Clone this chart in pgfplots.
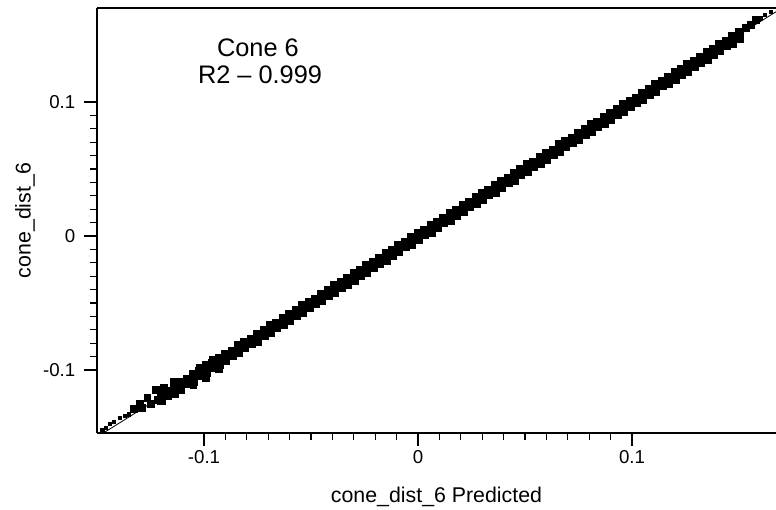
\documentclass[border=0pt]{standalone}
\usepackage{pgfplots}
\pgfplotsset{compat=1.18}
\usepackage{pgfplotstable}
\usepackage{fontspec}
\setmainfont{Liberation Sans}

% main band: x, upper edge, lower edge
\pgfplotstableread{
x yu yl
-0.120 -0.1181 -0.1228
-0.117 -0.1157 -0.1190
-0.114 -0.1119 -0.1171
-0.111 -0.1095 -0.1134
-0.108 -0.1070 -0.1101
-0.105 -0.1032 -0.1082
-0.102 -0.1006 -0.1043
-0.099 -0.0968 -0.1017
-0.096 -0.0949 -0.0979
-0.093 -0.0913 -0.0959
-0.090 -0.0881 -0.0928
-0.087 -0.0857 -0.0890
-0.084 -0.0819 -0.0871
-0.081 -0.0795 -0.0834
-0.078 -0.0770 -0.0801
-0.075 -0.0732 -0.0782
-0.072 -0.0706 -0.0743
-0.069 -0.0668 -0.0717
-0.066 -0.0649 -0.0679
-0.063 -0.0613 -0.0659
-0.060 -0.0581 -0.0628
-0.057 -0.0557 -0.0590
-0.054 -0.0519 -0.0571
-0.051 -0.0495 -0.0534
-0.048 -0.0470 -0.0501
-0.045 -0.0432 -0.0482
-0.042 -0.0406 -0.0443
-0.039 -0.0368 -0.0417
-0.036 -0.0349 -0.0379
-0.033 -0.0313 -0.0359
-0.030 -0.0281 -0.0328
-0.027 -0.0257 -0.0290
-0.024 -0.0219 -0.0271
-0.021 -0.0195 -0.0234
-0.018 -0.0170 -0.0201
-0.015 -0.0132 -0.0182
-0.012 -0.0106 -0.0143
-0.009 -0.0068 -0.0117
-0.006 -0.0049 -0.0079
-0.003 -0.0013 -0.0059
0.000 0.0019 -0.0028
0.003 0.0043 0.0010
0.006 0.0081 0.0029
0.009 0.0105 0.0066
0.012 0.0130 0.0099
0.015 0.0168 0.0118
0.018 0.0194 0.0157
0.021 0.0232 0.0183
0.024 0.0251 0.0221
0.027 0.0287 0.0241
0.030 0.0319 0.0272
0.033 0.0343 0.0310
0.036 0.0381 0.0329
0.039 0.0405 0.0366
0.042 0.0430 0.0399
0.045 0.0468 0.0418
0.048 0.0494 0.0457
0.051 0.0532 0.0483
0.054 0.0551 0.0521
0.057 0.0587 0.0541
0.060 0.0619 0.0572
0.063 0.0643 0.0610
0.066 0.0681 0.0629
0.069 0.0705 0.0666
0.072 0.0730 0.0699
0.075 0.0768 0.0718
0.078 0.0794 0.0757
0.081 0.0832 0.0783
0.084 0.0851 0.0821
0.087 0.0887 0.0841
0.090 0.0919 0.0872
0.093 0.0943 0.0910
0.096 0.0981 0.0929
0.099 0.1005 0.0966
0.102 0.1030 0.0999
0.105 0.1068 0.1018
0.108 0.1094 0.1057
0.111 0.1132 0.1083
0.114 0.1151 0.1121
0.117 0.1187 0.1141
0.120 0.1219 0.1172
0.123 0.1243 0.1210
0.126 0.1281 0.1229
0.129 0.1305 0.1266
0.132 0.1330 0.1299
0.135 0.1368 0.1318
0.138 0.1394 0.1357
0.141 0.1432 0.1383
0.144 0.1451 0.1421
0.147 0.1487 0.1441
0.150 0.1519 0.1472
}\band

% scattered points at both ends
\pgfplotstableread{
x y
-0.1330 -0.1290
-0.1300 -0.1250
-0.1290 -0.1285
-0.1265 -0.1210
-0.1250 -0.1255
-0.1225 -0.1150
-0.1215 -0.1225
-0.1190 -0.1135
-0.1180 -0.1190
-0.1160 -0.1165
-0.1140 -0.1085
-0.1110 -0.1150
-0.1080 -0.1070
-0.1050 -0.1110
-0.1020 -0.0980
-0.0990 -0.1060
-0.0960 -0.0920
-0.0930 -0.0990
0.1530 0.1555
0.1555 0.1575
0.1580 0.1610
}\tails

\pgfplotstableread{
x y
-0.1475 -0.1450
-0.1460 -0.1430
-0.1440 -0.1400
-0.1420 -0.1385
-0.1395 -0.1355
-0.1370 -0.1340
-0.1350 -0.1330
0.1600 0.1625
0.1620 0.1650
0.1650 0.1670
}\dots

\begin{document}
\begin{tikzpicture}
\path[use as bounding box] (-72.75pt,-57.75pt) rectangle (509.25pt,324.75pt);
\begin{axis}[
    scale only axis,
    width=509.25pt, height=318.75pt,
    xmin=-0.15, xmax=0.1673,
    ymin=-0.147, ymax=0.1701,
    axis lines=left,
    axis line style={-, line width=1pt},
    tick align=outside,
    major tick length=9.75pt,
    minor tick length=5.25pt,
    every tick/.style={black, line width=0.9pt},
    xtick={-0.1,0,0.1}, ytick={-0.1,0,0.1},
    minor x tick num=9, minor y tick num=9,
    /pgf/number format/assume math mode=true,
    tick label style={font=\fontsize{14}{16}\selectfont},
    yticklabel style={xshift=-3pt},
    xlabel={cone\_dist\_6 Predicted},
    ylabel={cone\_dist\_6},
    every axis x label/.style={at={(axis description cs:0.5,-0.1506)}, anchor=center,
        font=\fontsize{16}{18}\selectfont},
    every axis y label/.style={at={(axis description cs:-0.106,0.5)}, rotate=90, anchor=center,
        font=\fontsize{16}{18}\selectfont},
    clip=true,
]
\addplot[black, line width=0.6pt] coordinates {(-0.16,-0.16) (0.18,0.18)};
\addplot[only marks, mark=square*, mark size=3pt, black] table[x=x, y=yu] {\band};
\addplot[only marks, mark=square*, mark size=3pt, black] table[x=x, y=yl] {\band};
\addplot[only marks, mark=square*, mark size=2.6pt, black] table[x=x, y=y] {\tails};
\addplot[only marks, mark=square*, mark size=1.2pt, black] table[x=x, y=y] {\dots};
\node[font=\fontsize{19}{21}\selectfont] at (axis cs:-0.0748,0.1403) {Cone 6};
\node[font=\fontsize{19}{21}\selectfont] at (axis cs:-0.0738,0.1201) {R2 – 0.999};
\draw[line width=1pt] (rel axis cs:0,1) -- (rel axis cs:1,1);
\end{axis}
\end{tikzpicture}
\end{document}
